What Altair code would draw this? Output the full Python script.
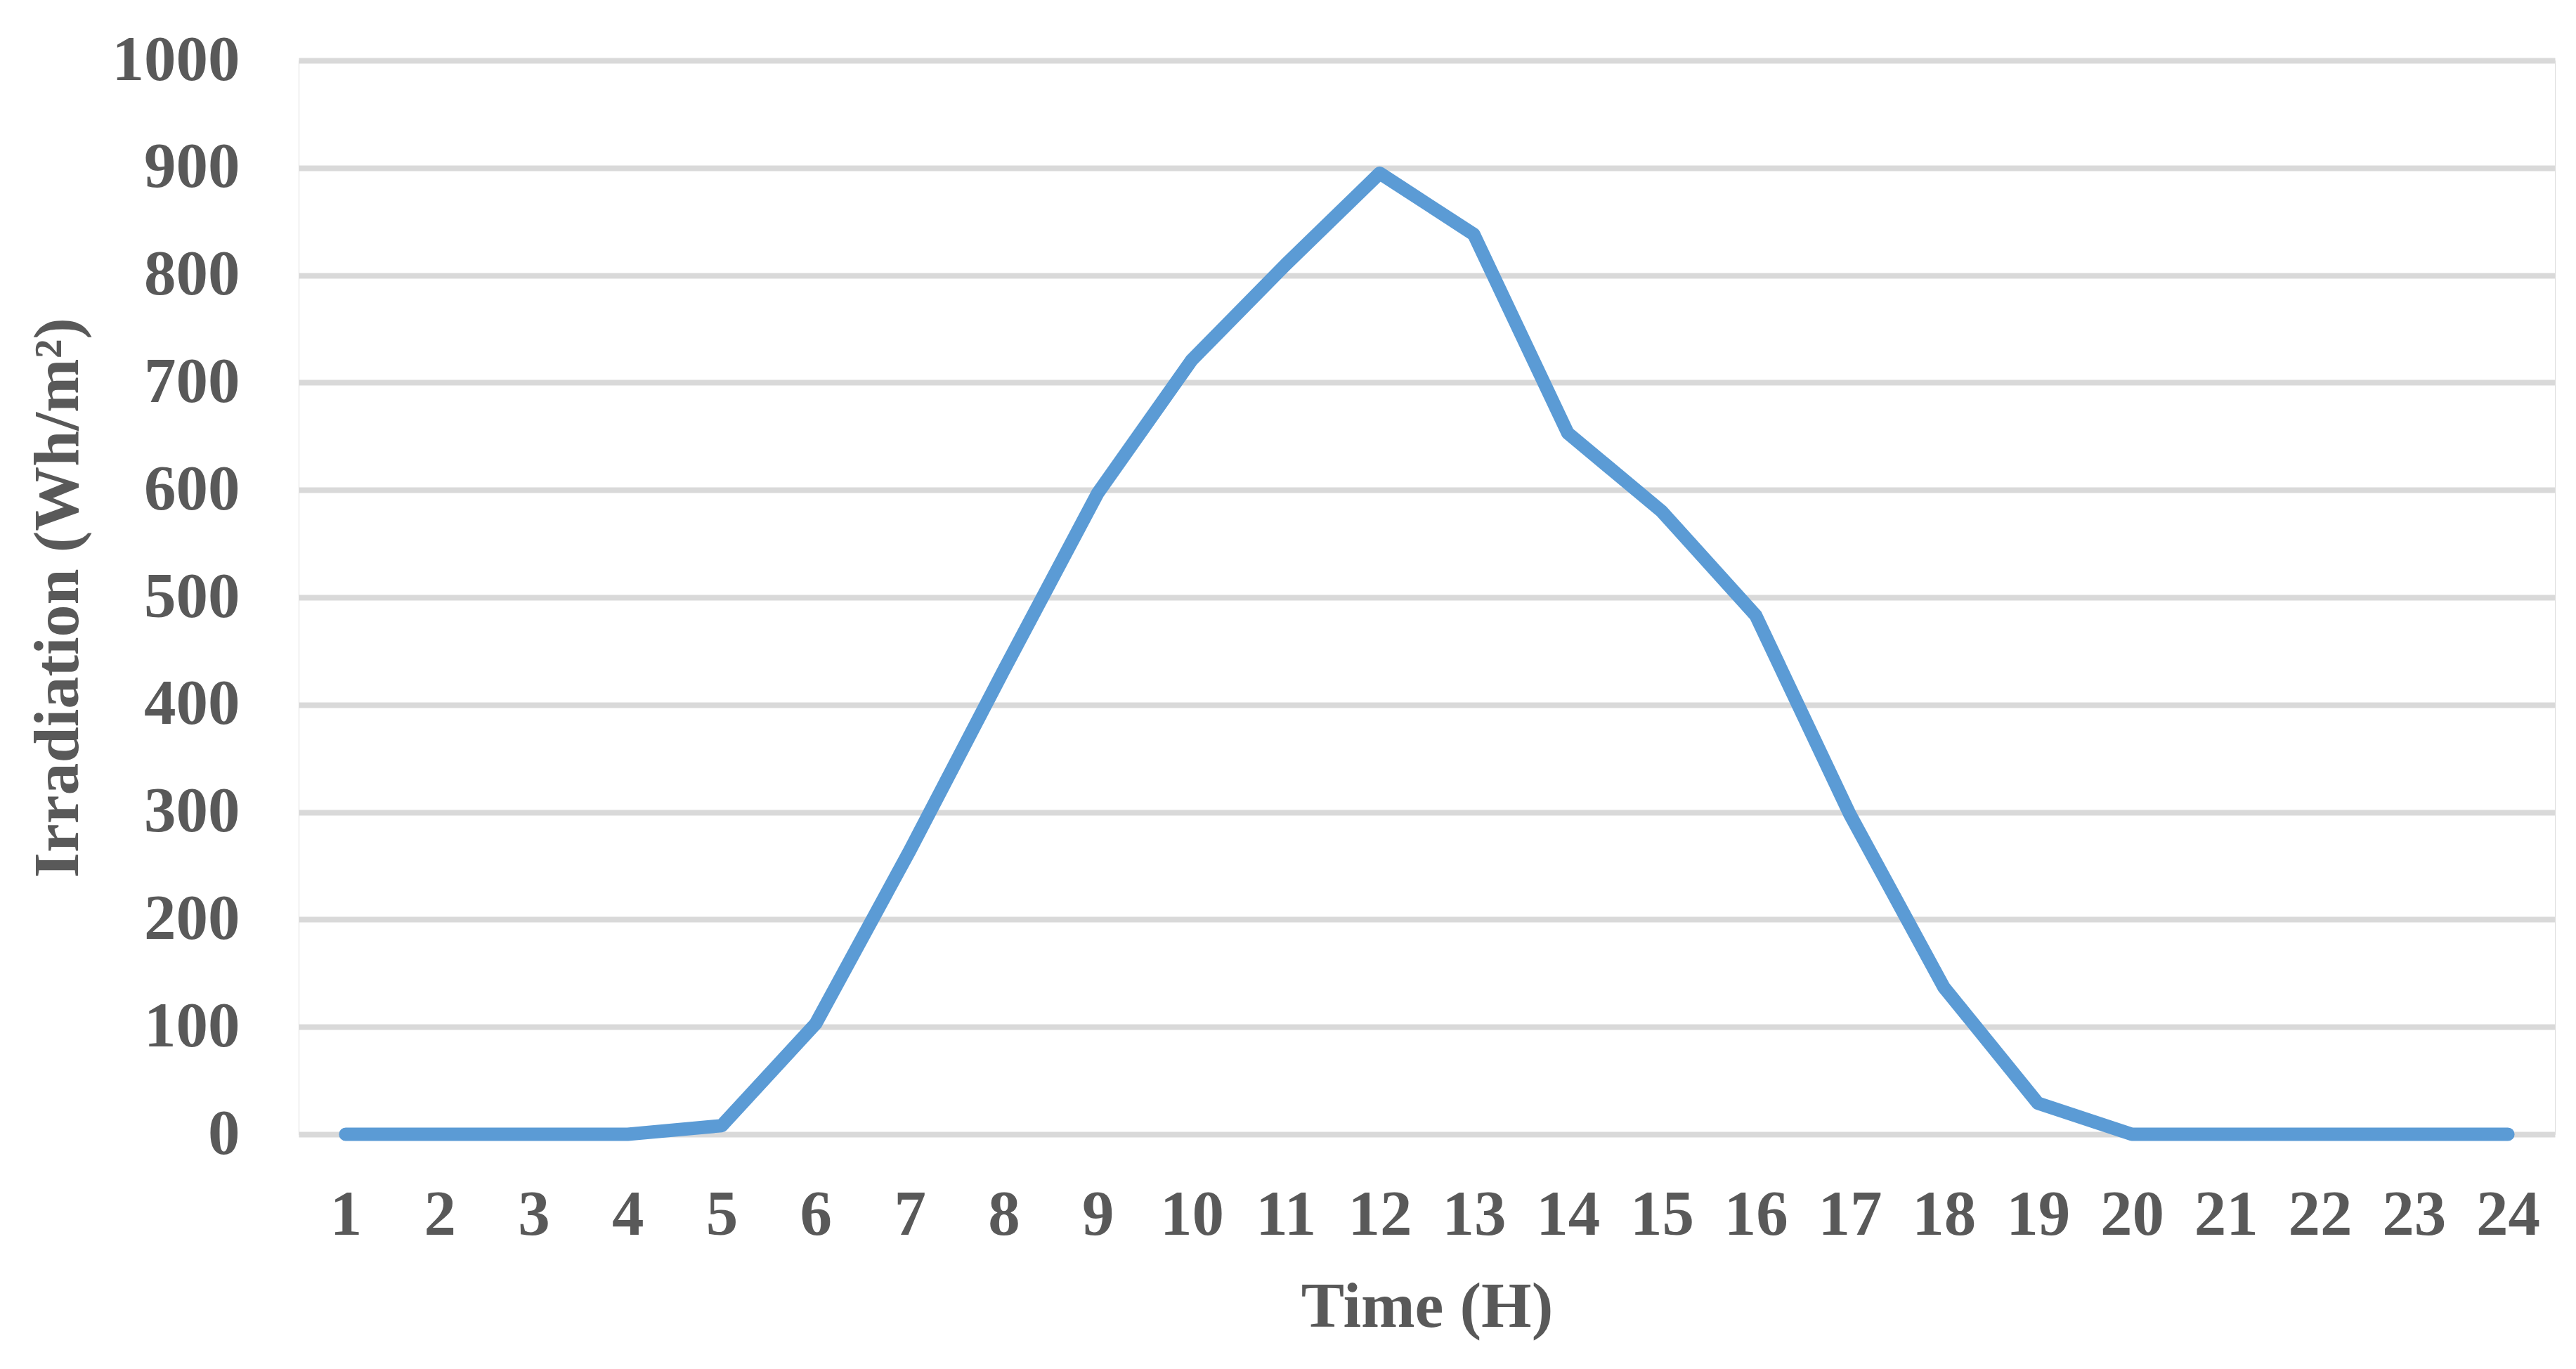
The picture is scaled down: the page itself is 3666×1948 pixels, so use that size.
import altair as alt
import pandas as pd

hours = [1, 2, 3, 4, 5, 6, 7, 8, 9, 10, 11, 12, 13, 14, 15, 16, 17, 18, 19, 20, 21, 22, 23, 24]
irradiation = [0, 0, 0, 0, 8, 103, 264, 432, 597, 721, 810, 895, 838, 653, 580, 483, 298, 137, 29, 0, 0, 0, 0, 0]
y_ticks = [0, 100, 200, 300, 400, 500, 600, 700, 800, 900, 1000]

df = pd.DataFrame({"hour": hours, "irr": irradiation})

FONT = "Liberation Serif"
TXT = "#595959"

chart = (
    alt.Chart(df)
    .mark_line(color="#5B9BD5", strokeWidth=19, strokeCap="round", strokeJoin="round")
    .encode(
        x=alt.X(
            "hour:O",
            sort=hours,
            scale=alt.Scale(paddingOuter=0.5),
            axis=alt.Axis(
                title="Time (H)",
                labelAngle=0,
                labelFont=FONT,
                labelFontSize=91,
                labelFontWeight="bold",
                labelColor=TXT,
                labelBaseline="alphabetic",
                labelPadding=142,
                ticks=False,
                tickSize=0,
                domain=False,
                grid=False,
                titleFont=FONT,
                titleFontSize=92,
                titleFontWeight="bold",
                titleColor=TXT,
                titleBaseline="middle",
                titleY=245,
            ),
        ),
        y=alt.Y(
            "irr:Q",
            scale=alt.Scale(domain=[0, 1000], nice=False),
            axis=alt.Axis(
                title="Irradiation (Wh/m²)",
                values=y_ticks,
                format="d",
                labelLimit=1000,
                labelFont=FONT,
                labelFontSize=91,
                labelFontWeight="bold",
                labelColor=TXT,
                labelPadding=84,
                ticks=False,
                tickSize=0,
                domain=False,
                grid=True,
                gridColor="#D9D9D9",
                gridWidth=8,
                titleFont=FONT,
                titleFontSize=92,
                titleFontWeight="bold",
                titleColor=TXT,
                titleBaseline="middle",
                titleX=-343,
            ),
        ),
    )
    .properties(
        width=3211,
        height=1528,
        autosize=alt.AutoSizeParams(type="none"),
        padding={"left": 417, "top": 78, "right": 22, "bottom": 300},
    )
    .configure_view(stroke=None)
    .configure(background="white")
)

chart.save("out.html", embed_options={"renderer": "svg", "actions": False})
